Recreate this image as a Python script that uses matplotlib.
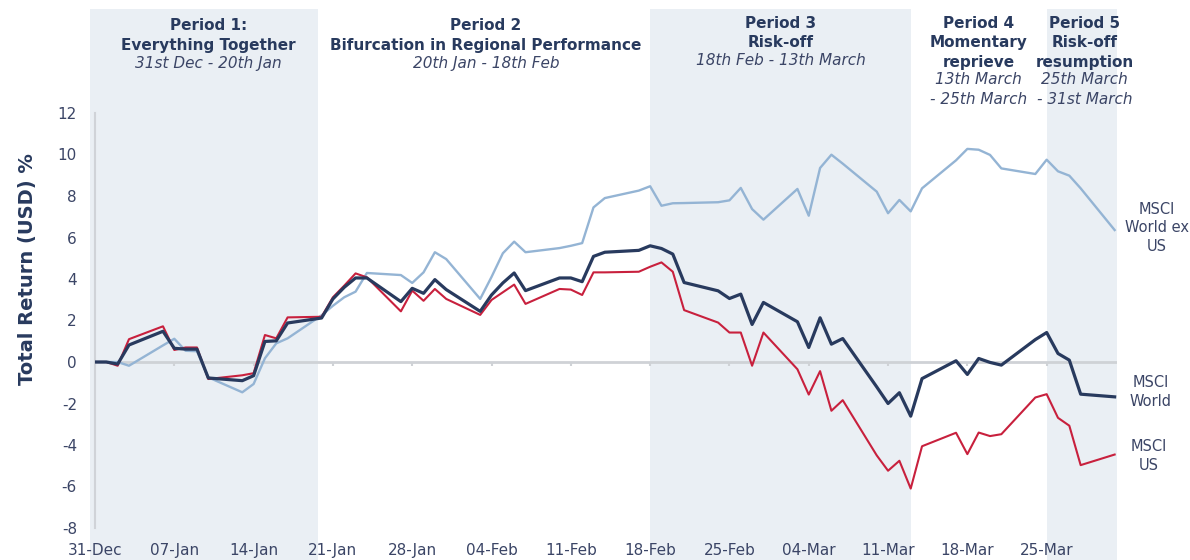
import matplotlib
matplotlib.use("Agg")
import matplotlib.pyplot as plt
import matplotlib.dates as mdates
import matplotlib.transforms as mtransforms
import numpy as np
import pandas as pd

# trading days shown on the chart (weekdays, 31 Dec 2024 - 31 Mar 2025)
dates = pd.bdate_range("2024-12-31", "2025-03-31")

# total return in USD, % since 31 Dec
msci_world = [
    0, 0, -0.1, 0.82, 1.48, 0.66, 0.62, 0.62, -0.77, -0.9, -0.66, 0.99, 1.02, 1.88,
    2.12, 3.04, 3.6, 4.05, 4.05, 2.91, 3.55, 3.31, 3.97, 3.49, 2.44, 3.23, 3.81, 4.29,
    3.44, 4.05, 4.05, 3.87, 5.09, 5.29, 5.38, 5.6, 5.47, 5.2, 3.83, 3.43, 3.06, 3.27,
    1.81, 2.87, 1.94, 0.7, 2.13, 0.86, 1.13, -1.2, -2.0, -1.48, -2.61, -0.8, 0.06,
    -0.6, 0.17, -0.02, -0.15, 1.08, 1.42, 0.41, 0.09, -1.55, -1.68,
]
msci_us = [
    0, 0, -0.18, 1.1, 1.72, 0.58, 0.7, 0.7, -0.82, -0.64, -0.54, 1.3, 1.14, 2.15,
    2.18, 3.12, 3.68, 4.27, 4.08, 2.44, 3.44, 2.95, 3.52, 3.04, 2.27, 2.99, 3.36, 3.73,
    2.8, 3.52, 3.49, 3.23, 4.32, 4.32, 4.35, 4.59, 4.8, 4.35, 2.5, 1.9, 1.42, 1.42,
    -0.18, 1.42, -0.35, -1.57, -0.44, -2.35, -1.84, -4.5, -5.24, -4.76, -6.1, -4.06,
    -3.41, -4.44, -3.4, -3.57, -3.48, -1.71, -1.55, -2.69, -3.07, -4.97, -4.46,
]
msci_world_ex_us = [
    0, 0, 0, -0.18, 0.8, 1.12, 0.54, 0.52, -0.74, -1.46, -1.06, 0.18, 0.9, 1.14,
    2.25, 2.71, 3.12, 3.39, 4.29, 4.19, 3.81, 4.32, 5.29, 4.96, 3.04, 4.1, 5.24, 5.8,
    5.29, 5.49, 5.6, 5.73, 7.45, 7.9, 8.26, 8.47, 7.53, 7.65, 7.66, 7.7, 7.79, 8.39,
    7.37, 6.86, 8.34, 7.05, 9.35, 9.99, 9.56, 8.21, 7.17, 7.81, 7.26, 8.37, 9.72,
    10.27, 10.23, 9.98, 9.33, 9.06, 9.75, 9.19, 8.98, 8.37, 6.36,
]

# period boundaries and their headings
period_edges = ["2024-12-31", "2025-01-20", "2025-02-18", "2025-03-13", "2025-03-25", "2025-03-31"]
shaded_periods = [0, 2, 4]
period_bold = [
    ["Period 1:", "Everything Together"],
    ["Period 2", "Bifurcation in Regional Performance"],
    ["Period 3", "Risk-off"],
    ["Period 4", "Momentary", "reprieve"],
    ["Period 5", "Risk-off", "resumption"],
]
period_dates = [
    ["31st Dec - 20th Jan"],
    ["20th Jan - 18th Feb"],
    ["18th Feb - 13th March"],
    ["13th March", "- 25th March"],
    ["25th March", "- 31st March"],
]

navy = "#283a5e"
red = "#c8203d"
light = "#94b4d4"
shade = "#eaeff4"
txt = "#3b4566"

plt.rcParams["font.family"] = ["DejaVu Sans"]
plt.rcParams["axes.unicode_minus"] = False

fig = plt.figure(figsize=(11.9, 5.6), dpi=100)
ax = fig.add_axes([95 / 1190, 32 / 560, (1117 - 95) / 1190, 415 / 560])

x0 = pd.Timestamp("2024-12-31")
x1 = pd.Timestamp("2025-03-31") + pd.Timedelta(hours=5)
ax.set_xlim(x0, x1)
ax.set_ylim(-8, 12)

# shaded periods reaching from the top of the figure to the bottom
edges = [pd.Timestamp(e) for e in period_edges]
for i in shaded_periods:
    left = edges[i] - pd.Timedelta(hours=11) if i == 0 else edges[i]
    right = edges[i + 1] + pd.Timedelta(hours=5) if i == 4 else edges[i + 1]
    if i == 0:
        right = right - pd.Timedelta(hours=7)
    ax.axvspan(left, right, ymin=-0.08, ymax=1.25, color=shade, lw=0, zorder=0, clip_on=False)

# zero line with its little week ticks
ticks = pd.date_range("2024-12-31", "2025-03-25", freq="7D")
ax.axhline(0, color="#cfd2d6", lw=2, zorder=1)
ax.vlines(ticks, -0.2, 0, color="#cfd2d6", lw=1.5, zorder=1)

ax.plot(dates, msci_world_ex_us, color=light, lw=1.7, zorder=3)
ax.plot(dates, msci_us, color=red, lw=1.5, zorder=4)
ax.plot(dates, msci_world, color=navy, lw=2.3, zorder=5)

# axes styling
for s in ["top", "right", "bottom"]:
    ax.spines[s].set_visible(False)
ax.spines["left"].set_color("#d0d3d8")
ax.spines["left"].set_linewidth(1.5)
ax.set_yticks(np.arange(-8, 13, 2))
ax.set_xticks(ticks)
ax.xaxis.set_major_formatter(mdates.DateFormatter("%d-%b"))
ax.tick_params(axis="y", length=0, pad=13, labelsize=11, labelcolor=txt)
ax.tick_params(axis="x", length=0, pad=11, labelsize=11, labelcolor=txt)
ax.set_ylabel("Total Return (USD) %", fontsize=14, fontweight="bold", color=navy)
ax.yaxis.set_label_coords(-0.057, 0.625)

# series labels at the right end
ax.text(1.039, 0.723, "MSCI\nWorld ex\nUS", transform=ax.transAxes, ha="center", va="center",
        fontsize=10.5, color=txt, linespacing=1.3)
ax.text(1.033, 0.328, "MSCI\nWorld", transform=ax.transAxes, ha="center", va="center",
        fontsize=10.5, color=txt, linespacing=1.3)
ax.text(1.031, 0.173, "MSCI\nUS", transform=ax.transAxes, ha="center", va="center",
        fontsize=10.5, color=txt, linespacing=1.3)

# period headings above the plot
tr = mtransforms.blended_transform_factory(ax.transData, fig.transFigure)
for i in range(5):
    mid = edges[i] + (edges[i + 1] - edges[i]) / 2
    if i == 4:
        mid = mid + pd.Timedelta(hours=8)
    y = 23 if len(period_bold[i]) > 2 or i == 2 else 26
    for line in period_bold[i]:
        ax.text(mid, 1 - y / 560, line, transform=tr, ha="center", va="center",
                fontsize=11, fontweight="bold", color=navy)
        y += 19.5
    y -= 1.5
    for line in period_dates[i]:
        ax.text(mid, 1 - y / 560, line, transform=tr, ha="center", va="center",
                fontsize=11, fontstyle="italic", color=txt)
        y += 19

fig.savefig("out.png", dpi=100)
